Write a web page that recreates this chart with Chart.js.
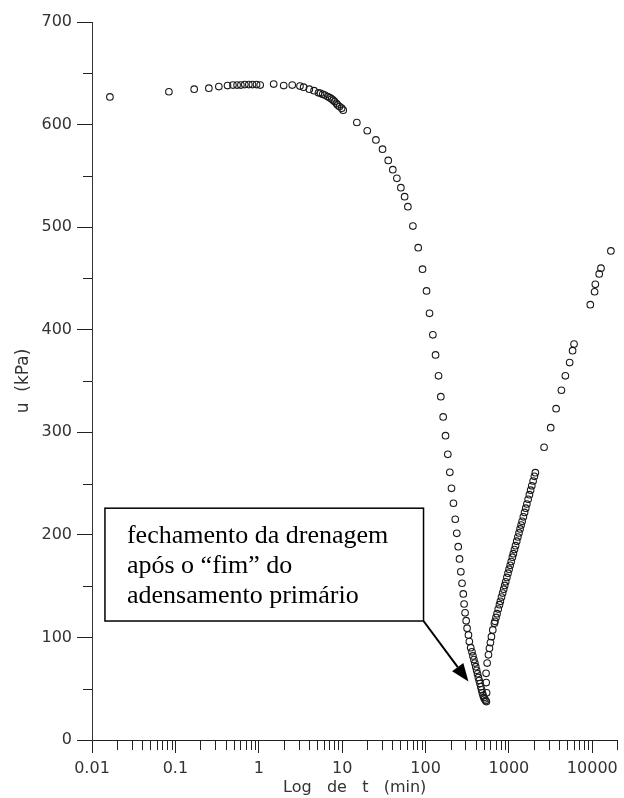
<!DOCTYPE html>
<html>
<head>
<meta charset="utf-8">
<script src="https://cdn.jsdelivr.net/npm/chart.js@4.4.1/dist/chart.umd.min.js"></script>
<style>
  html, body { margin: 0; padding: 0; background: #fff; }
  #wrap { width: 624px; height: 798px; }
</style>
</head>
<body>
<div id="wrap"><canvas id="chart" width="624" height="798"></canvas></div>
<script>
// time (min)
const tValues = [
  0.0164, 0.0836, 0.168, 0.252, 0.332, 0.422, 0.49, 0.55, 0.61, 0.68, 0.76, 0.84, 0.94, 1.04,
  1.51, 1.99, 2.52, 3.12, 3.45, 4.04, 4.6, 5.2, 5.5, 5.84, 6.2, 6.7, 7.1, 7.48, 7.8, 8.13, 8.5, 8.83, 9.3, 9.86, 10.3,
  15.0, 20.0, 25.4, 30.5, 35.7, 40.5, 45.3, 50.6, 56.1, 61.4, 70.5, 81.7, 92.0, 102.8, 111.6, 122.4, 131.8,
  143.2, 152.5, 162.7, 173.6, 185, 195.5, 204.8, 216, 227, 237, 246.5, 255.5, 265, 274, 283.6, 290, 298,
  307, 315, 327, 335, 348, 360, 370, 380, 390, 400, 410, 420, 430, 440, 450, 460, 470, 480, 490, 500,
  512, 525, 537,
  540, 534, 532, 548, 568, 584, 600, 617, 640, 670,
  680, 700, 720, 745, 770, 790, 815, 840, 865, 890, 915, 945, 975, 1005, 1035, 1065, 1100, 1130, 1165,
  1200, 1240, 1280, 1320, 1360, 1400, 1440, 1490, 1540, 1590, 1640, 1700, 1760, 1820, 1880, 1950, 2020, 2075,
  2640, 3170, 3680, 4260, 4750, 5350, 5800, 6040, 9460, 10650, 10870, 12100, 12700, 16700
];
// pore pressure u (kPa)
const uValues = [
  627, 632, 634.5, 635.5, 637, 638, 638.5, 638.5, 638.5, 639, 639, 639, 639, 638.5,
  639.5, 638, 638.5, 637.5, 636.5, 634.5, 633, 631, 630.5, 629.5, 628.8, 627.3, 626.2, 625, 623.8, 622.4, 620.8, 619.2, 617.6, 616, 614,
  602, 594, 585, 576, 565, 556, 547.6, 538.5, 529.7, 520, 501, 480, 459, 437.8, 416, 395, 375.4,
  355, 334.7, 315, 296.7, 278.5, 261, 245.4, 230.8, 215.2, 201.5, 188.5, 176.5, 164, 152.8, 142.4, 132.6, 124,
  116.3, 109, 102.4, 96, 90, 86, 82, 78.5, 75, 71.5, 68, 64.5, 61, 58, 55, 52, 49, 46, 43.5, 41.5,
  40, 38.5, 37.5,
  46, 56, 65, 75, 83, 89.4, 95, 100.7, 107.3, 113.8,
  115.7, 119.5, 123.2, 127.6, 131.9, 135.2, 139.3, 143.2, 147, 150.7, 154.3, 158.5, 162.6, 166.5, 170.3, 174, 178.2, 181.7, 185.7,
  189.5, 193.8, 197.9, 201.9, 205.8, 209.5, 213.2, 217.6, 221.9, 226, 230.1, 234.7, 239.2, 243.6, 247.8, 252.5, 257.1, 260.6,
  285.4, 304.5, 323, 341, 355, 368, 379.6, 386, 424.4, 437, 444.3, 454.4, 460, 476.8
];
const xDecades = [0.01, 0.1, 1, 10, 100, 1000, 10000];
const xLabels = ['0.01', '0.1', '1', '10', '100', '1000', '10000'];
const yMajor = [0, 100, 200, 300, 400, 500, 600, 700];
const noteLines = ['fechamento da drenagem', 'após o \u201cfim\u201d do', 'adensamento primário'];

const X_MAX = 20000;

// minor tick positions (2..9 of each decade, plus the axis end)
const xMinor = [];
xDecades.forEach(d => {
  for (let m = 2; m <= 9; m++) {
    const v = Number((d * m).toPrecision(3));
    if (v <= X_MAX) xMinor.push(v);
  }
});
const yMinor = yMajor.slice(0, -1).map(v => v + 50);

const points = tValues.map((t, i) => ({ x: t, y: uValues[i] }));

const minorTicks = {
  id: 'minorTicks',
  afterDraw(chart) {
    const ctx = chart.ctx;
    const xs = chart.scales.x, ys = chart.scales.y;
    ctx.save();
    ctx.strokeStyle = '#222';
    ctx.lineWidth = 1;
    ctx.beginPath();
    xMinor.forEach(v => {
      const px = Math.round(xs.getPixelForValue(v)) + 0.5;
      ctx.moveTo(px, xs.top);
      ctx.lineTo(px, xs.top + 10);
    });
    yMinor.forEach(v => {
      const py = Math.round(ys.getPixelForValue(v)) + 0.5;
      ctx.moveTo(ys.right, py);
      ctx.lineTo(ys.right - 9, py);
    });
    ctx.stroke();
    ctx.restore();
  }
};

// text box with arrow, anchored in data coordinates
const note = {
  id: 'note',
  afterDatasetsDraw(chart) {
    const ctx = chart.ctx;
    const xs = chart.scales.x, ys = chart.scales.y;
    const x0 = xs.getPixelForValue(0.0143), x1 = xs.getPixelForValue(94.6);
    const y0 = ys.getPixelForValue(226), y1 = ys.getPixelForValue(116);
    const tipX = xs.getPixelForValue(327), tipY = ys.getPixelForValue(57);
    ctx.save();
    ctx.fillStyle = '#fff';
    ctx.fillRect(x0, y0, x1 - x0, y1 - y0);
    ctx.strokeStyle = '#000';
    ctx.lineWidth = 1.5;
    ctx.strokeRect(x0, y0, x1 - x0, y1 - y0);

    ctx.fillStyle = '#000';
    ctx.font = '26px "Liberation Serif", "Times New Roman", serif';
    ctx.textBaseline = 'alphabetic';
    ctx.textAlign = 'left';
    noteLines.forEach((s, i) => ctx.fillText(s, x0 + 22, y0 + 35 + i * 29.8));

    // arrow from lower right corner
    const ang = Math.atan2(tipY - y1, tipX - x1);
    const headLen = 18, headW = 7;
    const bx = tipX - headLen * Math.cos(ang), by = tipY - headLen * Math.sin(ang);
    ctx.lineWidth = 2;
    ctx.beginPath();
    ctx.moveTo(x1, y1);
    ctx.lineTo(bx, by);
    ctx.stroke();
    ctx.beginPath();
    ctx.moveTo(tipX, tipY);
    ctx.lineTo(bx + headW * Math.sin(ang), by - headW * Math.cos(ang));
    ctx.lineTo(bx - headW * Math.sin(ang), by + headW * Math.cos(ang));
    ctx.closePath();
    ctx.fill();
    ctx.restore();
  }
};

const tickFont = { family: '"DejaVu Sans", Verdana, sans-serif', size: 16 };

new Chart(document.getElementById('chart'), {
  type: 'scatter',
  data: {
    datasets: [{
      data: points,
      pointStyle: 'circle',
      pointRadius: 3.3,
      pointBorderWidth: 1.1,
      borderColor: '#1a1a1a',
      backgroundColor: 'rgba(0,0,0,0)',
      showLine: false
    }]
  },
  options: {
    responsive: false,
    animation: false,
    devicePixelRatio: 1,
    layout: { padding: { top: 22, right: 4, left: 0, bottom: 0 } },
    plugins: { legend: { display: false }, tooltip: { enabled: false } },
    scales: {
      x: {
        type: 'logarithmic',
        min: 0.01,
        max: X_MAX,
        afterBuildTicks: s => { s.ticks = xDecades.map(v => ({ value: v })); },
        afterFit: s => { s.height = 58; },
        border: { display: true, color: '#222', width: 1 },
        grid: { drawOnChartArea: false, drawTicks: true, tickLength: 13, tickColor: '#222' },
        ticks: {
          autoSkip: false,
          maxRotation: 0,
          padding: 6,
          color: '#333',
          font: tickFont,
          callback: (v) => {
            const i = xDecades.indexOf(v);
            return i >= 0 ? xLabels[i] : '';
          }
        },
        title: {
          display: true,
          text: 'Log   de   t   (min)',
          color: '#333',
          font: { family: '"DejaVu Sans", Verdana, sans-serif', size: 16 },
          padding: { top: 0, bottom: 1 }
        }
      },
      y: {
        min: 0,
        max: 700,
        afterBuildTicks: s => { s.ticks = yMajor.map(v => ({ value: v })); },
        afterFit: s => { s.width = 92; },
        border: { display: true, color: '#333', width: 1 },
        grid: { drawOnChartArea: false, drawTicks: true, tickLength: 15, tickColor: '#222' },
        ticks: { padding: 5, color: '#333', font: tickFont },
        title: {
          display: true,
          text: 'u  (kPa)',
          color: '#333',
          font: { family: '"DejaVu Sans", Verdana, sans-serif', size: 17 },
          padding: { top: 13, bottom: 0 }
        }
      }
    }
  },
  plugins: [minorTicks, note]
});
</script>
</body>
</html>
